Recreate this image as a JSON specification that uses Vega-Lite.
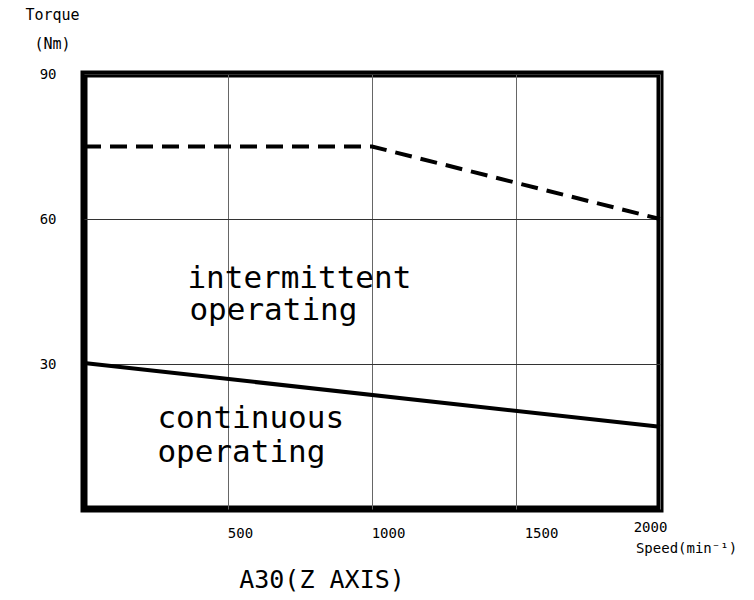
{
  "$schema": "https://vega.github.io/schema/vega-lite/v6.json",
  "width": 576,
  "height": 435,
  "autosize": "none",
  "padding": {"left": 84, "top": 74, "right": 94, "bottom": 91},
  "background": "white",
  "config": {
    "view": {"stroke": "black", "strokeWidth": 7},
    "font": "DejaVu Sans Mono"
  },
  "title": {
    "text": "A30(Z AXIS)",
    "orient": "bottom",
    "anchor": "middle",
    "dx": -50,
    "offset": 13,
    "font": "DejaVu Sans Mono",
    "fontSize": 25,
    "fontWeight": "normal",
    "color": "black"
  },
  "datasets": {
    "curves": [
      {"speed": 0, "torque": 75, "mode": "intermittent"},
      {"speed": 1000, "torque": 75, "mode": "intermittent"},
      {"speed": 2000, "torque": 60, "mode": "intermittent"},
      {"speed": 0, "torque": 30.2, "mode": "continuous"},
      {"speed": 2000, "torque": 17, "mode": "continuous"}
    ],
    "notes": [
      {"speed": 359, "torque": 45.7, "text": "intermittent"},
      {"speed": 366, "torque": 39.1, "text": "operating"},
      {"speed": 255, "torque": 16.8, "text": "continuous"},
      {"speed": 255, "torque": 9.7, "text": "operating"}
    ]
  },
  "encoding": {
    "x": {
      "field": "speed",
      "type": "quantitative",
      "scale": {"domain": [0, 2000], "nice": false, "zero": false},
      "axis": {
        "values": [500, 1000, 1500, 2000],
        "format": "d",
        "grid": true,
        "gridColor": "#666666",
        "gridWidth": 1,
        "ticks": false,
        "domain": false,
        "labelFont": "DejaVu Sans Mono",
        "labelFontSize": 14,
        "labelColor": "black",
        "labelPadding": {"condition": {"test": "datum.value === 2000", "value": 11}, "value": 17},
        "labelOffset": {"condition": [
          {"test": "datum.value === 2000", "value": -10},
          {"test": "datum.value === 1500", "value": 25},
          {"test": "datum.value === 1000", "value": 16}
        ], "value": 12},
        "labelFlush": false,
        "labelOverlap": false,
        "title": "Speed(min⁻¹)",
        "titleFont": "DejaVu Sans Mono",
        "titleFontSize": 14,
        "titleFontWeight": "normal",
        "titleColor": "black",
        "titleAnchor": "start",
        "titleAlign": "center",
        "titleBaseline": "alphabetic",
        "titleX": 602,
        "titleY": 43
      }
    },
    "y": {
      "field": "torque",
      "type": "quantitative",
      "scale": {"domain": [0, 90], "nice": false, "zero": false},
      "axis": {
        "values": [30, 60, 90],
        "grid": true,
        "gridColor": "#333333",
        "gridWidth": 1,
        "ticks": false,
        "domain": false,
        "labelFont": "DejaVu Sans Mono",
        "labelFontSize": 14,
        "labelColor": "black",
        "labelPadding": 28,
        "title": ["Torque", "(Nm)"],
        "titleFont": "DejaVu Sans Mono",
        "titleFontSize": 15,
        "titleFontWeight": "normal",
        "titleColor": "black",
        "titleAngle": 0,
        "titleAlign": "center",
        "titleBaseline": "alphabetic",
        "titleLineHeight": 29,
        "titleX": -32,
        "titleY": -55
      }
    }
  },
  "layer": [
    {
      "data": {"name": "curves"},
      "transform": [{"filter": "datum.mode === 'intermittent'"}],
      "mark": {"type": "line", "color": "black", "strokeWidth": 4, "strokeDash": [17, 9]}
    },
    {
      "data": {"name": "curves"},
      "transform": [{"filter": "datum.mode === 'continuous'"}],
      "mark": {"type": "line", "color": "black", "strokeWidth": 4}
    },
    {
      "data": {"name": "notes"},
      "mark": {"type": "text", "align": "left", "baseline": "alphabetic", "fontSize": 31, "font": "DejaVu Sans Mono", "color": "black"},
      "encoding": {"text": {"field": "text"}}
    }
  ]
}
